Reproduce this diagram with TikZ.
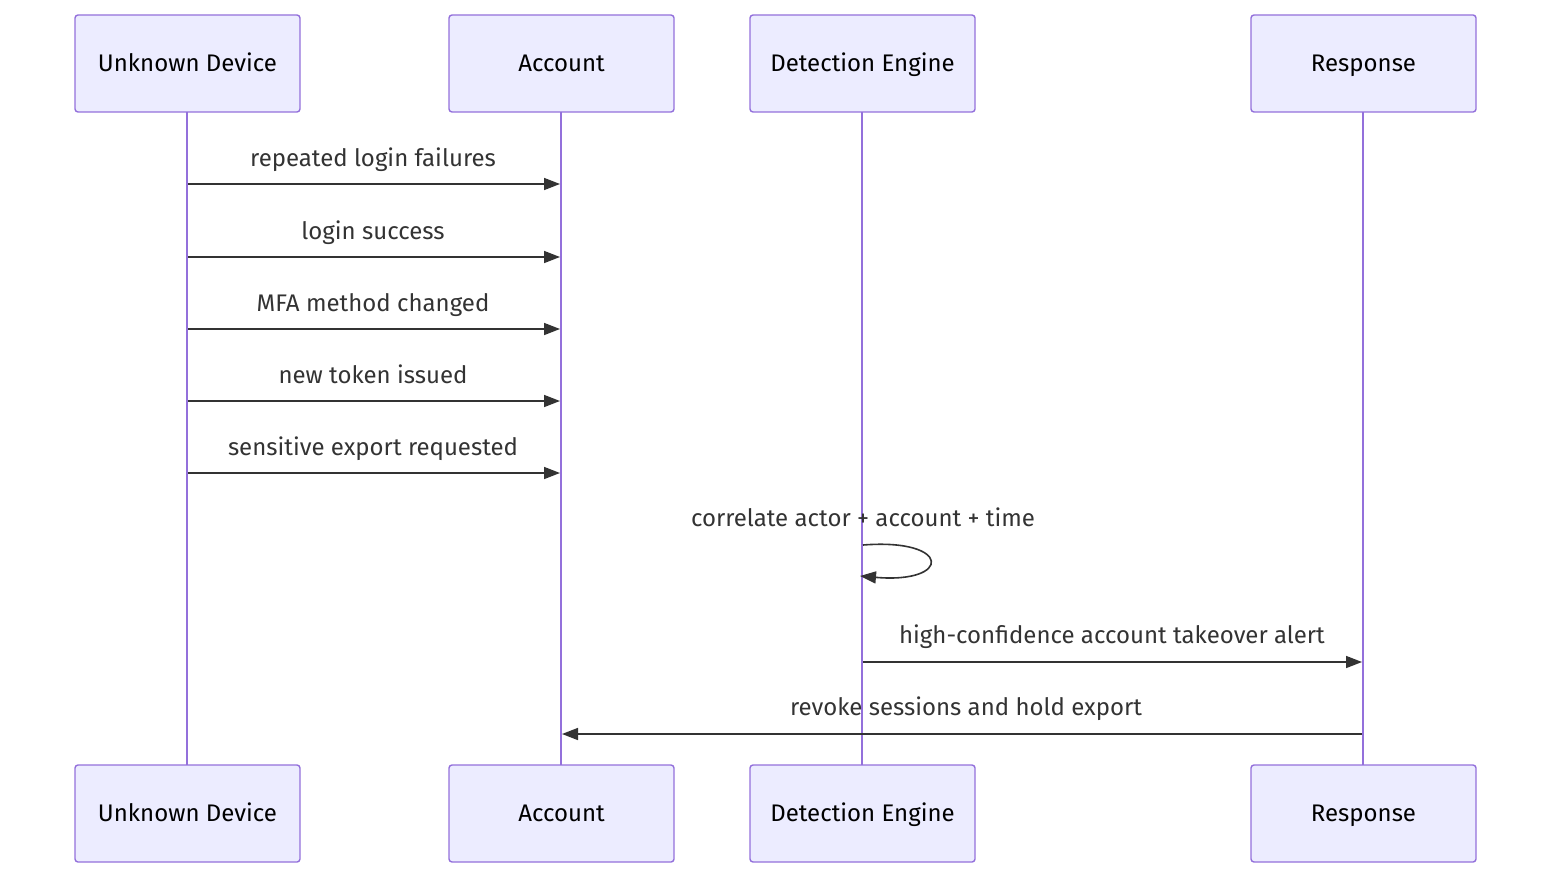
\documentclass[tikz,border=0pt]{standalone}
\usepackage{fontspec}
\setmainfont{Fira Sans}
\usetikzlibrary{arrows.meta}
\definecolor{actfill}{HTML}{ECECFF}
\definecolor{actline}{HTML}{9370DB}
\definecolor{msg}{HTML}{333333}
\tikzset{
  actor/.style={draw=actline, fill=actfill, line width=1.4pt, rounded corners=3pt,
    minimum width=225pt, minimum height=97pt, inner sep=0pt, text height=20pt, text depth=4pt,
    font=\fontsize{24}{26}\selectfont, text=black},
  life/.style={draw=actline, line width=2.6pt},
  msgline/.style={draw=msg, line width=1.6pt, -{Triangle[length=16pt,width=12pt]}},
  msglabel/.style={text=msg, font=\fontsize{24}{26}\selectfont, inner sep=0pt}
}
\begin{document}
\begin{tikzpicture}[x=1pt,y=-1pt]
\useasboundingbox (0,0) rectangle (1568,888);
% lifelines first
\coordinate (ut) at (187,112); \coordinate (ub) at (187,765);
\coordinate (at) at (561,112); \coordinate (ab) at (561,765);
\coordinate (dt) at (862,112); \coordinate (db) at (862,765);
\coordinate (rt) at (1363,112); \coordinate (rb) at (1363,765);
\draw[life] (ut) -- (ub);
\draw[life] (at) -- (ab);
\draw[life] (dt) -- (db);
\draw[life] (rt) -- (rb);
% actors
\node[actor] (u1) at (187.5,63.5) {Unknown Device};
\node[actor] (a1) at (561.5,63.5) {Account};
\node[actor] (d1) at (862.5,63.5) {Detection Engine};
\node[actor] (r1) at (1363.5,63.5) {Response};
\node[actor] (u2) at (187.5,813.5) {Unknown Device};
\node[actor] (a2) at (561.5,813.5) {Account};
\node[actor] (d2) at (862.5,813.5) {Detection Engine};
\node[actor] (r2) at (1363.5,813.5) {Response};
% messages
\foreach \y/\t/\n in {184/repeated login failures/m1, 257/login success/m2, 329/MFA method changed/m3, 401/new token issued/m4, 473/sensitive export requested/m5}{
  \coordinate (\n s) at (188,\y);
  \coordinate (\n e) at (560,\y);
  \draw[msgline] (\n s) -- (\n e);
  \node[msglabel, anchor=base] (\n l) at (373,\y-18) {\t};
}
% self loop
\coordinate (ss) at (863,545);
\coordinate (se) at (860,576);
\draw[msg, line width=1.6pt, -{Triangle[length=16pt,width=12pt]}] (ss) .. controls (952,538) and (952,584) .. (se);
\node[msglabel, anchor=base] (sl) at (863,526) {correlate actor + account + time};
% engine to response
\coordinate (m7s) at (863,662); \coordinate (m7e) at (1362,662);
\draw[msgline] (m7s) -- (m7e);
\node[msglabel, anchor=base] (m7l) at (1112,643) {high-confidence account takeover alert};
% response to account
\coordinate (m8s) at (1362,734); \coordinate (m8e) at (562,734);
\draw[msgline] (m8s) -- (m8e);
\node[msglabel, anchor=base] (m8l) at (966,715) {revoke sessions and hold export};
\end{tikzpicture}
\end{document}
